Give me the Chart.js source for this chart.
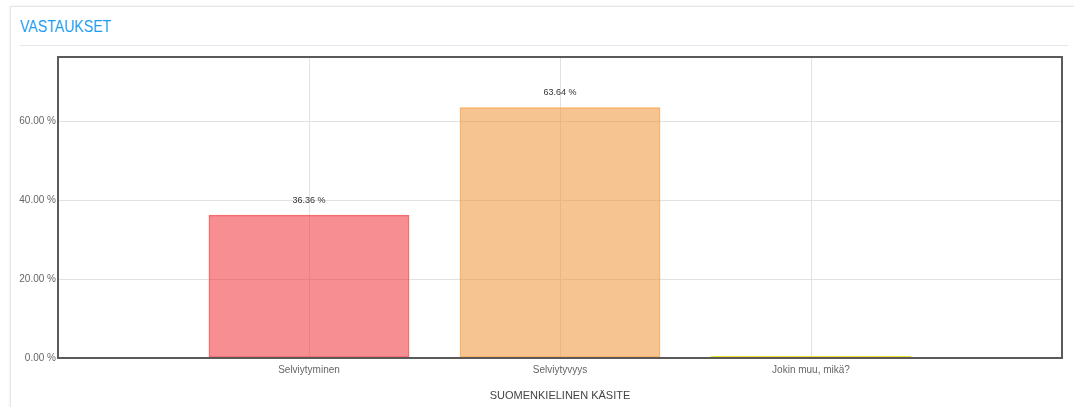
<!DOCTYPE html>
<html>
<head>
<meta charset="utf-8">
<script src="https://cdn.jsdelivr.net/npm/chart.js"></script>
<style>
  html, body { margin: 0; padding: 0; background: #fff; width: 1074px; height: 407px; overflow: hidden; }
  .card { position: absolute; left: 10px; top: 6px; width: 1080px; height: 420px; background: #fff;
          border: 1px solid #e4e7ea; box-shadow: 0 0 3px rgba(0,0,0,0.08); }
  .card h3 { position: absolute; left: 9px; top: 10px; margin: 0; font: 17px "Liberation Sans", sans-serif;
             color: #1c9ef0; font-weight: normal; transform: scaleX(0.83); transform-origin: left center; }
  .card hr { position: absolute; left: 9px; top: 38px; width: 1048px; margin: 0; border: 0; border-top: 1px solid #e2e8ee; }
  #wrap { position: absolute; left: 0; top: 49px; width: 1074px; height: 358px; }
</style>
</head>
<body>
<div class="card"><h3>VASTAUKSET</h3><hr></div>
<div id="wrap"><canvas id="myChart"></canvas></div>
<script>
const categories = ['Selviytyminen', 'Selviytyvyys', 'Jokin muu, mikä?'];
const values = [36.36, 63.64, 0];
const yTicks = [0, 20, 40, 60];
const yMax = 76.37;

const fills = ['rgba(240, 50, 55, 0.55)', 'rgba(238, 148, 55, 0.55)', 'rgba(240, 225, 40, 0.5)'];
const borders = ['rgba(240, 60, 65, 0.75)', 'rgba(245, 160, 70, 0.8)', 'rgb(238, 228, 40)'];

// empty slots at both ends, like the original
const labels = [''].concat(categories, ['']);
const data = [null].concat(values, [null]);

const font = '"Liberation Sans", sans-serif';

const boxPlugin = {
  id: 'box',
  afterDraw(chart) {
    const a = chart.chartArea, ctx = chart.ctx;
    ctx.save();
    ctx.strokeStyle = '#5a5a5a';
    ctx.lineWidth = 2;
    ctx.strokeRect(a.left, a.top, a.right - a.left, a.bottom - a.top);
    ctx.restore();
  }
};

const valueLabels = {
  id: 'valueLabels',
  afterDatasetsDraw(chart) {
    const ctx = chart.ctx;
    const meta = chart.getDatasetMeta(0);
    ctx.save();
    ctx.font = '9px ' + font;
    ctx.fillStyle = '#333';
    ctx.textAlign = 'center';
    ctx.textBaseline = 'bottom';
    meta.data.forEach((bar, i) => {
      const v = data[i];
      if (v === null || v === 0) return;
      ctx.fillText(v.toFixed(2) + ' %', bar.x, bar.y - 10);
    });
    ctx.restore();
  }
};

new Chart(document.getElementById('myChart'), {
  type: 'bar',
  data: {
    labels: labels,
    datasets: [{
      data: data,
      backgroundColor: [null].concat(fills, [null]),
      borderColor: [null].concat(borders, [null]),
      borderWidth: 2,
      borderSkipped: false,
      minBarLength: 2,
      categoryPercentage: 1,
      barPercentage: 0.8
    }]
  },
  plugins: [boxPlugin, valueLabels],
  options: {
    responsive: true,
    maintainAspectRatio: false,
    animation: false,
    layout: { padding: { top: 6, right: 12, left: 0, bottom: 0 } },
    plugins: { legend: { display: false }, tooltip: { enabled: false } },
    scales: {
      x: {
        offset: false,
        grid: { color: '#e2e2e2', drawTicks: false, offset: false },
        border: { display: false },
        ticks: { color: '#666', font: { size: 10, family: font }, padding: 6, maxRotation: 0 },
        title: { display: true, text: 'SUOMENKIELINEN KÄSITE', color: '#444', font: { size: 11, family: font }, padding: { top: 7 } },
        afterFit(scale) { scale.height = 49; }
      },
      y: {
        min: 0,
        max: yMax,
        grid: { color: '#e2e2e2', drawTicks: false },
        border: { display: false },
        afterBuildTicks(scale) { scale.ticks = yTicks.map(v => ({ value: v })); },
        ticks: {
          color: '#666',
          font: { size: 10, family: font },
          padding: 2,
          callback: v => v.toFixed(2) + ' %'
        },
        afterFit(scale) { scale.width = 58; }
      }
    }
  }
});
</script>
</body>
</html>
